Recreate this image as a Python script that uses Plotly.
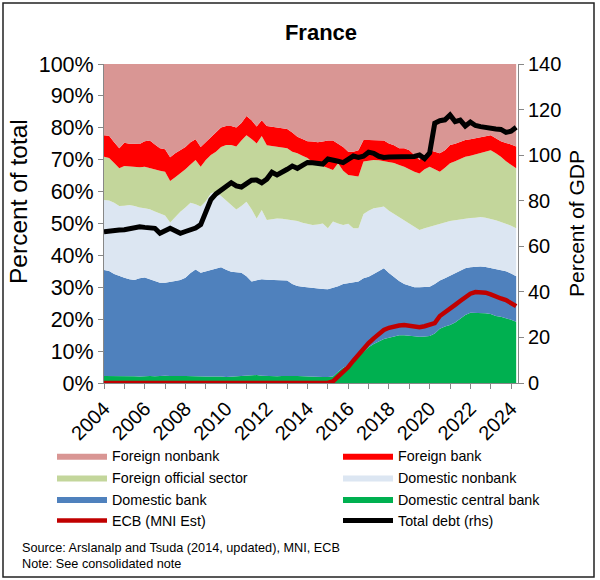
import plotly.graph_objects as go

FONT = "Liberation Sans, Arial, sans-serif"

# Quarterly observations, 2004Q1 .. 2024Q2 (decimal years)
quarters = [2004 + q / 4 for q in range(82)]

# Cumulative tops of each stacked layer (percent of total)
top_domestic_central_bank = [
    2.2, 2.2, 2.1, 2.2, 2.3, 2.1, 2.1, 2.0, 2.2, 2.2,
    2.1, 2.3, 2.3, 2.2, 2.3, 2.2, 2.2, 2.1, 2.1, 2.0,
    2.0, 2.0, 2.1, 2.0, 1.9, 2.0, 2.1, 2.2, 2.4, 2.5,
    2.5, 2.3, 2.2, 2.1, 2.1, 2.2, 2.3, 2.2, 2.2, 2.1,
    2.1, 2.1, 2.0, 1.9, 1.9, 2.0, 3.5, 4.8, 5.5, 7.0,
    8.5, 10.0, 11.2, 12.2, 13.0, 13.8, 14.2, 14.6, 15.0, 15.0,
    14.8, 14.5, 14.5, 14.6, 14.7, 15.5, 17.0, 17.7, 18.2, 19.0,
    20.3, 21.3, 22.0, 22.0, 22.0, 21.9, 21.6, 21.0, 20.8, 20.4,
    19.8, 19.2]
top_domestic_bank = [
    35.4, 35.1, 34.2, 33.5, 33.0, 32.5, 32.3, 32.8, 33.1, 32.5,
    32.0, 31.4, 31.4, 31.6, 32.0, 32.3, 33.0, 34.5, 35.6, 34.6,
    35.0, 35.5, 36.0, 36.3, 35.5, 34.9, 34.7, 34.6, 33.5, 31.8,
    32.2, 32.5, 32.4, 32.3, 32.3, 32.2, 32.1, 31.0, 30.4, 30.2,
    30.0, 29.7, 29.6, 29.5, 29.4, 29.8, 30.3, 31.0, 31.2, 31.5,
    31.8, 32.8, 33.3, 34.2, 35.0, 36.0, 34.5, 33.2, 32.0, 31.0,
    30.5, 30.0, 30.0, 30.1, 30.2, 31.0, 32.1, 32.8, 33.6, 34.4,
    35.3, 36.0, 36.3, 36.5, 36.5, 36.4, 36.0, 35.7, 35.4, 35.0,
    34.3, 33.5]
top_domestic_nonbank = [
    57.4, 57.2, 56.5, 55.5, 55.6, 55.8, 55.5, 55.0, 54.8, 54.5,
    53.8, 53.2, 52.5, 50.3, 52.0, 53.7, 55.0, 56.5, 56.0, 55.3,
    57.0, 59.5, 60.0, 58.6, 57.5, 56.0, 54.4, 55.5, 56.8, 54.5,
    51.6, 54.2, 51.1, 51.3, 51.6, 51.5, 51.3, 51.1, 50.8, 50.2,
    49.8, 49.5, 49.7, 50.0, 48.5, 50.6, 50.0, 49.5, 49.9, 48.5,
    48.5, 53.0, 54.0, 54.8, 55.0, 55.3, 54.0, 53.0, 52.1, 51.0,
    50.0, 49.0, 48.0, 48.5, 49.0, 49.5, 50.0, 50.5, 50.8, 51.0,
    51.3, 51.5, 51.7, 51.8, 52.0, 51.8, 51.5, 51.0, 50.5, 50.0,
    49.3, 48.5]
top_foreign_official = [
    70.9, 70.5, 69.0, 67.3, 68.0, 67.8, 67.8, 67.6, 67.8, 67.3,
    66.8, 66.5, 66.2, 63.3, 64.5, 65.7, 67.0, 68.5, 69.9, 67.8,
    69.9, 71.5, 72.5, 74.0, 74.6, 74.6, 74.1, 76.0, 77.7, 76.5,
    75.1, 77.4, 74.5, 74.3, 74.0, 73.9, 73.6, 72.5, 72.0, 71.2,
    70.5, 69.1, 69.0, 68.0, 67.5, 66.8, 68.9, 66.5, 65.2, 65.0,
    64.7, 69.4, 69.7, 69.9, 69.8, 69.6, 69.4, 69.0, 68.3, 67.8,
    67.0, 66.2, 65.7, 67.0, 67.8, 67.0, 66.2, 67.5, 68.9, 69.5,
    70.3, 70.9, 71.2, 71.6, 72.0, 72.5, 73.0, 72.0, 70.9, 69.5,
    68.5, 67.3]
top_foreign_bank = [
    77.7, 77.5, 75.5, 73.6, 75.3, 75.0, 75.0, 74.9, 75.8, 76.0,
    74.8, 73.6, 73.3, 70.8, 72.0, 73.0, 74.0, 75.5, 76.4, 74.0,
    75.5, 77.0, 78.5, 80.1, 80.6, 80.6, 80.1, 81.5, 83.7, 82.4,
    80.4, 82.4, 80.6, 80.3, 80.1, 79.8, 79.6, 78.5, 77.2, 76.5,
    75.8, 75.7, 75.5, 75.7, 76.0, 76.0, 75.0, 74.0, 72.5, 72.5,
    73.0, 76.2, 76.2, 76.2, 76.0, 76.0, 75.1, 74.5, 73.6, 73.6,
    73.0, 71.5, 70.0, 71.5, 73.0, 72.5, 72.0, 73.0, 74.6, 75.0,
    75.5, 76.2, 76.4, 76.7, 77.0, 77.2, 77.7, 76.7, 75.8, 75.2,
    74.8, 74.1]

ecb_mni_est = [0.0] * 45 + [
    0.5, 2.0, 3.8, 5.0, 7.0,
    9.0, 11.0, 12.5, 14.0, 15.3, 16.6, 17.3, 17.8, 18.0, 18.2,
    18.0, 17.6, 17.5, 17.8, 18.3, 18.8, 21.0, 22.3, 23.5, 24.5,
    25.7, 27.0, 28.0, 28.5, 28.4, 28.3, 27.8, 27.0, 26.5, 26.0,
    25.0, 24.1]

total_debt_rhs = [
    66.4, 66.8, 67.0, 67.1, 67.3, 67.8, 68.3, 68.6, 68.3, 68.1,
    67.9, 65.7, 66.8, 67.9, 66.8, 65.7, 66.5, 67.4, 68.0, 69.5,
    75.0, 80.5, 83.0, 84.7, 86.5, 87.9, 86.5, 86.0, 87.5, 89.0,
    89.1, 87.9, 89.5, 92.5, 91.3, 92.3, 93.8, 95.2, 94.2, 95.5,
    96.8, 96.7, 96.3, 96.1, 98.3, 98.0, 97.3, 96.7, 98.5, 99.6,
    99.0, 99.5, 101.3, 100.8, 99.5, 99.0, 99.2, 99.3, 99.6, 99.4,
    99.3, 99.4, 100.1, 98.5, 101.0, 114.0, 115.1, 115.5, 117.6, 114.7,
    115.4, 112.8, 114.5, 113.0, 112.5, 112.0, 111.8, 111.5, 111.3, 110.0,
    110.5, 112.2]

# Layer shares derived from the cumulative tops
tops = [top_domestic_central_bank, top_domestic_bank, top_domestic_nonbank,
        top_foreign_official, top_foreign_bank, [100.0] * len(quarters)]
names = ["Domestic central bank", "Domestic bank", "Domestic nonbank",
         "Foreign official sector", "Foreign bank", "Foreign nonbank"]
colors = ["#00B050", "#4F81BD", "#DCE6F2", "#C3D69B", "#FF0000", "#D99694"]
legend_of = ["legend2", "legend", "legend2", "legend", "legend2", "legend"]
rank_of = [3, 3, 2, 2, 1, 1]

fig = go.Figure()
prev = [0.0] * len(quarters)
for top, name, col, lg, rk in zip(tops, names, colors, legend_of, rank_of):
    share = [t - p for t, p in zip(top, prev)]
    prev = top
    fig.add_trace(go.Scatter(
        x=quarters, y=share, name=name, stackgroup="one", mode="lines",
        line=dict(width=0, color=col), fillcolor=col,
        legend=lg, legendrank=rk))

fig.add_trace(go.Scatter(
    x=quarters, y=ecb_mni_est, name="ECB (MNI Est)", mode="lines",
    line=dict(color="#C00000", width=4.5), legend="legend", legendrank=4))
fig.add_trace(go.Scatter(
    x=quarters, y=total_debt_rhs, name="Total debt (rhs)", mode="lines",
    line=dict(color="#000000", width=5), yaxis="y2",
    legend="legend2", legendrank=4))

AX = "#878787"
tickfont = dict(family=FONT, size=20, color="#000000")

fig.update_layout(
    width=600, height=580,
    margin=dict(l=104, r=82, t=64, b=197),
    paper_bgcolor="white", plot_bgcolor="white",
    font=dict(family=FONT, color="#000000"),
    showlegend=True,
    title=dict(text="<b>France</b>", font=dict(family=FONT, size=22, color="#000000"),
               xref="container", x=0.535, xanchor="center",
               yref="container", y=1 - 32 / 580, yanchor="middle"),
    xaxis=dict(range=[2004, 2024.34], tick0=2004, dtick=2, tickformat="d",
               ticks="outside", ticklen=5, tickcolor=AX, showline=True,
               linecolor=AX, linewidth=1, showgrid=False, zeroline=False,
               tickangle=-45, tickfont=tickfont,
               minor=dict(dtick=1, tick0=2004, ticks="outside", ticklen=5,
                          tickcolor=AX, showgrid=False)),
    yaxis=dict(range=[0, 100], dtick=10, ticksuffix="%", ticks="outside",
               ticklen=5, tickcolor=AX, showline=True, linecolor=AX,
               linewidth=1, showgrid=False, zeroline=False,
               tickfont=dict(family=FONT, size=21.5, color="#000000")),
    yaxis2=dict(range=[0, 140], dtick=20, overlaying="y", side="right",
                ticks="outside", ticklen=5, tickcolor=AX, showline=True,
                linecolor=AX, linewidth=1, showgrid=False, zeroline=False,
                tickfont=tickfont,
                title=dict(text="Percent of GDP",
                           font=dict(family=FONT, size=21, color="#000000"),
                           standoff=8)),
    legend=dict(orientation="v", traceorder="normal",
                x=(52 - 104) / 414, xanchor="left",
                y=(383 - 440) / 319, yanchor="top",
                font=dict(family=FONT, size=14.3, color="#000000"),
                itemwidth=50, bgcolor="rgba(0,0,0,0)", borderwidth=0),
    legend2=dict(orientation="v", traceorder="normal",
                 x=(338 - 104) / 414, xanchor="left",
                 y=(383 - 440) / 319, yanchor="top",
                 font=dict(family=FONT, size=14.3, color="#000000"),
                 itemwidth=50, bgcolor="rgba(0,0,0,0)", borderwidth=0),
    shapes=[dict(type="rect", xref="paper", yref="paper",
                 x0=(3 - 104) / 414, x1=(594 - 104) / 414,
                 y0=(383 - 577) / 319, y1=(383 - 3) / 319,
                 line=dict(color="#222222", width=1.5), layer="above")],
    annotations=[
        dict(text="Percent of total", textangle=-90,
             xref="paper", yref="paper", x=(18 - 104) / 414,
             y=(383 - 202) / 319, xanchor="center", yanchor="middle",
             showarrow=False, font=dict(family=FONT, size=24.5, color="#000000")),
        dict(text="Source: Arslanalp and Tsuda (2014, updated), MNI, ECB",
             xref="paper", yref="paper", x=(20 - 104) / 414,
             y=(383 - 548) / 319, xanchor="left", yanchor="middle",
             showarrow=False, font=dict(family=FONT, size=12.7, color="#000000")),
        dict(text="Note: See consolidated note",
             xref="paper", yref="paper", x=(20 - 104) / 414,
             y=(383 - 564) / 319, xanchor="left", yanchor="middle",
             showarrow=False, font=dict(family=FONT, size=12.7, color="#000000")),
    ],
)

fig.write_html("out.html",
               config={"displayModeBar": False},
               post_script="document.body.style.margin='0';"
                           "document.body.style.overflow='hidden';")
